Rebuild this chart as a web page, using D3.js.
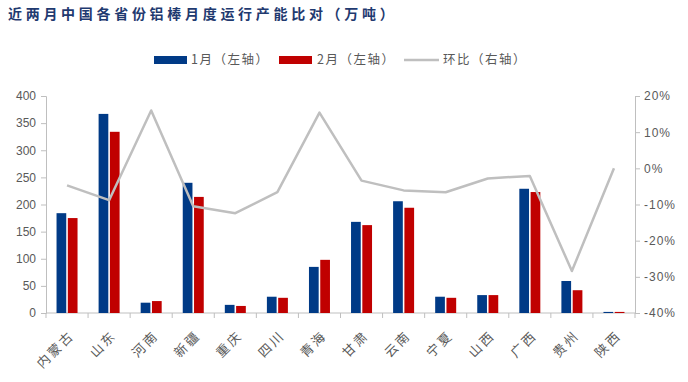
<!DOCTYPE html>
<html><head><meta charset="utf-8">
<script src="https://cdn.jsdelivr.net/npm/d3@7"></script>
<style>
body{margin:0;background:#fff;}
svg text{font-family:"Noto Sans CJK SC","Noto Sans",sans-serif;}
</style></head>
<body><svg id="c" width="688" height="382"></svg>
<script>
const categories = ["内蒙古","山东","河南","新疆","重庆","四川","青海","甘肃","云南","宁夏","山西","广西","贵州","陕西"];
const jan = [184,367,19,240,15,30,85,168,206,30,33,229,59,2];
const feb = [175,334,22,214,13,28,98,162,194,28,33,223,42,2];
const mom = [-4.7,-8.8,16.0,-10.5,-12.4,-6.6,15.4,-3.4,-6.1,-6.6,-2.8,-2.1,-28.4,0.0];
const leftTicks = [0,50,100,150,200,250,300,350,400];
const rightTicks = [-40,-30,-20,-10,0,10,20];
const seriesNames = ["1月（左轴）","2月（左轴）","环比（右轴）"];
const title = "近两月中国各省份铝棒月度运行产能比对（万吨）";

const svg = d3.select("#c");
const L=46, R=635, T=96, B=313;
const BLUE="#003A86", RED="#C00000", GRAY="#BFBFBF", TXT="#595959";

const x = d3.scaleBand().domain(categories).range([L,R]).paddingInner(0).paddingOuter(0);
const y = d3.scaleLinear().domain([0,400]).range([B,T]);
const y2 = d3.scaleLinear().domain([-40,20]).range([B,T]);
const sub = d3.scaleBand().domain(["jan","feb"]).range([0,21]).paddingInner(0.14);
const off = (x.bandwidth()-21)/2;

// title
svg.append("text").attr("x",8).attr("y",19).attr("fill","#1F3A70")
  .attr("font-size",14).attr("font-weight","bold").attr("letter-spacing","3.7px")
  .style("font-family","'Noto Sans CJK SC'").text(title);

// left axis
const ga = svg.append("g").attr("transform",`translate(${L},0)`)
  .call(d3.axisLeft(y).tickValues(leftTicks).tickSize(5).tickPadding(5));
ga.selectAll("path,line").attr("stroke",GRAY);
ga.selectAll("text").attr("fill",TXT).attr("font-size",12).style("font-family","'Liberation Sans',sans-serif");

// right axis
const gr = svg.append("g").attr("transform",`translate(${R},0)`)
  .call(d3.axisRight(y2).tickValues(rightTicks).tickSize(5).tickPadding(4).tickFormat(d=>d+"%"));
gr.selectAll("path,line").attr("stroke",GRAY);
gr.selectAll("text").attr("fill",TXT).attr("font-size",12).attr("letter-spacing","1px").style("font-family","'Liberation Sans',sans-serif");

// x axis
const gx = svg.append("g").attr("transform",`translate(0,${B})`);
gx.append("line").attr("x1",L).attr("x2",R).attr("stroke",GRAY);
const bounds = categories.map(c=>x(c)).concat([R]);
gx.selectAll("line.t").data(bounds).join("line").attr("class","t")
  .attr("x1",d=>d).attr("x2",d=>d).attr("y1",0).attr("y2",5).attr("stroke",GRAY);
gx.selectAll("text").data(categories).join("text")
  .attr("transform",d=>`translate(${x(d)+x.bandwidth()/2+5},${20}) rotate(-45)`)
  .attr("text-anchor","end").attr("dy","0.35em").attr("fill",TXT).attr("font-size",13)
  .attr("letter-spacing","2.5px").text(d=>d);

// bars
svg.append("g").selectAll("rect").data(jan).join("rect")
  .attr("x",(d,i)=>x(categories[i])+off+sub("jan")).attr("width",sub.bandwidth())
  .attr("y",d=>y(d)).attr("height",d=>B-y(d)).attr("fill",BLUE);
svg.append("g").selectAll("rect").data(feb).join("rect")
  .attr("x",(d,i)=>x(categories[i])+off+sub("feb")).attr("width",sub.bandwidth())
  .attr("y",d=>y(d)).attr("height",d=>B-y(d)).attr("fill",RED);

// line
const line = d3.line().x((d,i)=>x(categories[i])+x.bandwidth()/2).y(d=>y2(d));
svg.append("path").datum(mom).attr("d",line).attr("fill","none")
  .attr("stroke",GRAY).attr("stroke-width",2.5).attr("stroke-linejoin","round");

// legend
const lg = svg.append("g");
const items = [
  {name:seriesNames[0],type:"rect",color:BLUE,x:154,tx:191},
  {name:seriesNames[1],type:"rect",color:RED,x:279,tx:317},
  {name:seriesNames[2],type:"line",color:GRAY,x:404,tx:443}
];
items.forEach(it=>{
  if(it.type==="rect") lg.append("rect").attr("x",it.x).attr("y",56).attr("width",33).attr("height",8).attr("fill",it.color);
  else lg.append("line").attr("x1",it.x).attr("x2",it.x+35).attr("y1",60).attr("y2",60).attr("stroke",it.color).attr("stroke-width",2.5);
  lg.append("text").attr("x",it.tx).attr("y",60).attr("dy","0.35em").attr("fill",TXT)
    .attr("font-size",12.5).attr("letter-spacing","1.5px").text(it.name);
});
</script></body></html>
